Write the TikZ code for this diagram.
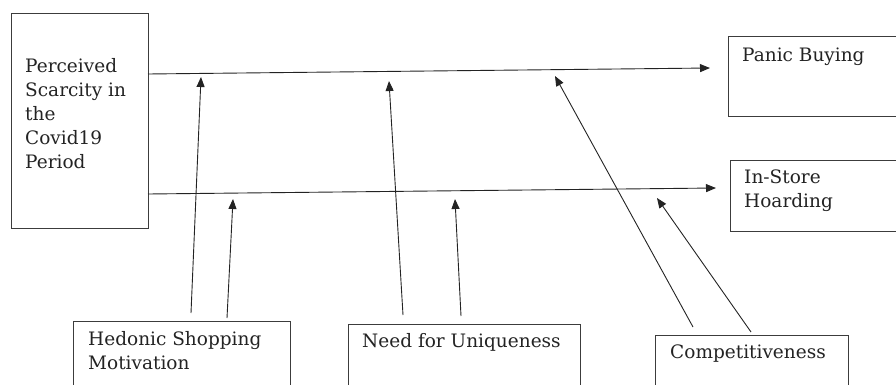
\documentclass[tikz,border=0pt]{standalone}
\usepackage{fontspec}
\setmainfont{DejaVu Serif}
\usetikzlibrary{arrows.meta}
\definecolor{ink}{RGB}{35,35,35}
\definecolor{edge}{RGB}{60,60,60}
\begin{document}
\begin{tikzpicture}[x=1pt,y=-1pt,
  box/.style={draw=edge,line width=1.1pt,rectangle,inner sep=0pt,anchor=north west},
  txt/.style={text=ink,font=\fontsize{18.5}{24}\selectfont,align=left,inner sep=0pt,anchor=base west},
  arr/.style={draw=ink,line width=0.9pt,-{Triangle[length=10pt,width=8pt]}}]
\useasboundingbox (0,0) rectangle (896,385);
\clip (0,0) rectangle (896,385);
% boxes
\node[box,minimum width=137pt,minimum height=215pt] (psc) at (11,13) {};
\node[box,minimum width=220pt,minimum height=80pt] (pb) at (728,36) {};
\node[box,minimum width=220pt,minimum height=71pt] (hoard) at (730,160) {};
\node[box,minimum width=217pt,minimum height=100pt] (hed) at (73,321) {};
\node[box,minimum width=232pt,minimum height=100pt] (uniq) at (348,324) {};
\node[box,minimum width=193pt,minimum height=100pt] (comp) at (655,335) {};
% texts (base anchor = last line)
\node[txt] (tpsc) at (25,168) {Perceived\\Scarcity in\\the\\Covid19\\Period};
\node[txt] (tpb) at (742,62) {Panic Buying};
\node[txt] (thoard) at (744,207) {In-Store\\Hoarding};
\node[txt] (thed) at (88,369) {Hedonic Shopping\\Motivation};
\node[txt] (tuniq) at (362,347) {Need for Uniqueness};
\node[txt] (tcomp) at (670,358) {Competitiveness};
% coordinates
\coordinate (s1) at (148,74);
\coordinate (e1) at (710,68);
\coordinate (s2) at (148,194);
\coordinate (e2) at (716,188);
\coordinate (h1) at (201,77);
\coordinate (h2) at (233,199);
\coordinate (u1) at (389,81);
\coordinate (u2) at (455,199);
\coordinate (c1) at (555,76);
\coordinate (c2) at (657,198);
\coordinate (hb1) at (191,313);
\coordinate (hb2) at (227,318);
\coordinate (ub1) at (403,315);
\coordinate (ub2) at (461,316);
\coordinate (cb1) at (693,327);
\coordinate (cb2) at (751,332);
% connectors
\draw[arr] (s1) -- (e1);
\draw[arr] (s2) -- (e2);
\draw[arr] (hb1) -- (h1);
\draw[arr] (hb2) -- (h2);
\draw[arr] (ub1) -- (u1);
\draw[arr] (ub2) -- (u2);
\draw[arr] (cb1) -- (c1);
\draw[arr] (cb2) -- (c2);
\end{tikzpicture}
\end{document}
